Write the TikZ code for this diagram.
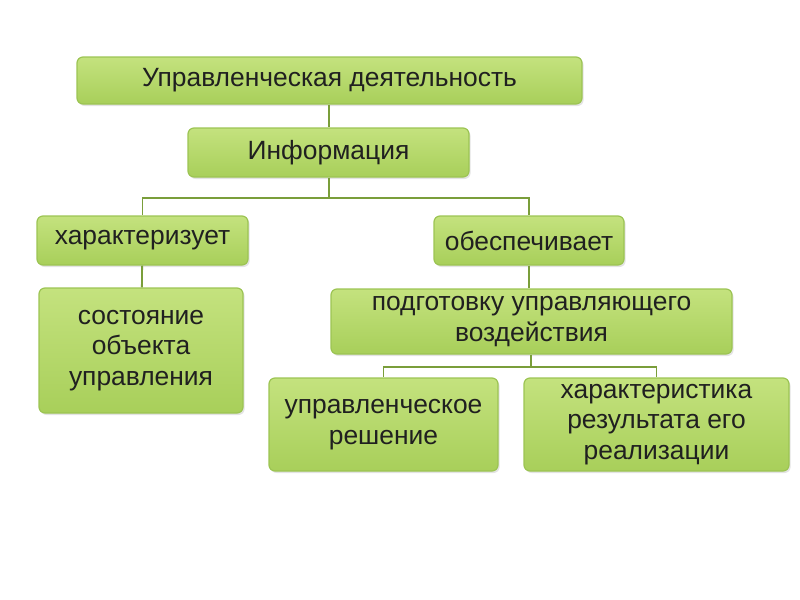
\documentclass[tikz,border=0pt]{standalone}
\usepackage{fontspec}
\setmainfont{Liberation Sans}
\usetikzlibrary{positioning,shadows}
\definecolor{boxtop}{HTML}{C4E27E}
\definecolor{boxbot}{HTML}{A8CF5A}
\definecolor{boxedge}{HTML}{9CC453}
\definecolor{linkcol}{HTML}{7A9E3A}
\definecolor{txtcol}{HTML}{202020}
\begin{document}
\begin{tikzpicture}[
        x=0.5pt, y=-0.5pt,
        blk/.style={draw=boxedge, line width=0.6pt, rounded corners=3pt,
            top color=boxtop, bottom color=boxbot, align=center,
            inner sep=0pt, text=txtcol,
            font=\fontsize{13.2}{15.3}\selectfont,
            drop shadow={opacity=0.22, shadow xshift=0.8pt, shadow yshift=-1pt}},
        link/.style={draw=linkcol, line width=0.9pt}
    ]
        \useasboundingbox (0,0) rectangle (800,600);

        \node[blk, minimum width=252.5pt, minimum height=23.5pt] (ud)   at (329.5,80.5)  {Управленческая деятельность};
        \node[blk, minimum width=140.5pt, minimum height=24.5pt] (info) at (328.5,152.5) {Информация};
        \node[blk, minimum width=105.5pt, minimum height=24.5pt] (har)  at (142.5,240.5) {характеризует};
        \node[blk, minimum width=95pt,    minimum height=24.5pt] (obe)  at (529,240.5)   {обеспечивает};
        \node[blk, minimum width=102pt,   minimum height=62.5pt] (sos)  at (141,350.5)   {состояние\\объекта\\управления};
        \node[blk, minimum width=200.5pt, minimum height=32.5pt] (pod)  at (531.5,321.5) {подготовку управляющего\\воздействия};
        \node[blk, minimum width=114.5pt, minimum height=46.5pt] (res)  at (383.5,424.5) {управленческое\\решение};
        \node[blk, minimum width=132.5pt, minimum height=46.5pt] (rez)  at (656.5,424.5) {характеристика\\результата его\\реализации};

        % forks
        \coordinate (f1) at (329,198);
        \coordinate (f2) at (531,367);

        \draw[link] (ud.south -| f1) -- (info.north -| f1);
        \draw[link] (info.south -| f1) -- (f1) -| (har.north);
        \draw[link] (f1) -| (obe.north);
        \draw[link] (har) -- (sos);
        \draw[link] (obe.south) -- (obe.south |- pod.north);
        \draw[link] (pod.south -| f2) -- (f2) -| (res.north);
        \draw[link] (f2) -| (rez.north);
    \end{tikzpicture}
\end{document}
